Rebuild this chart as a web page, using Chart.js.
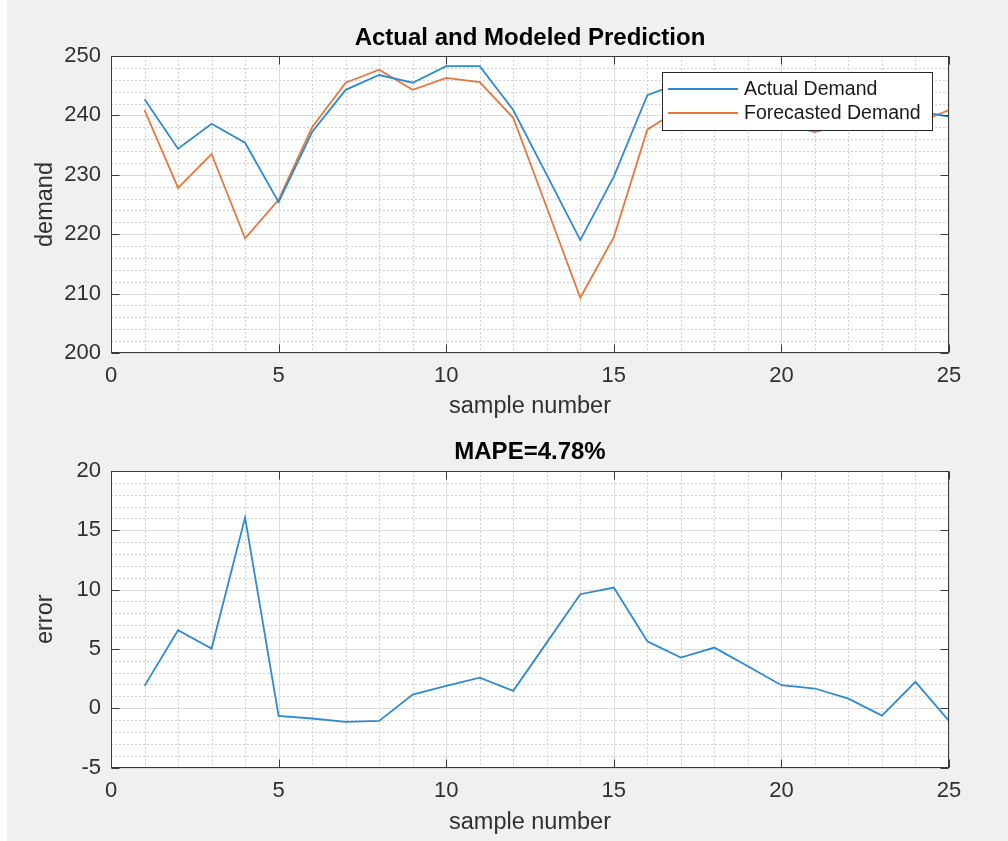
<!DOCTYPE html>
<html lang="en">
  <head>
    <meta charset="UTF-8" />
    <title>Actual and Modeled Prediction</title>
    <script src="https://cdn.jsdelivr.net/npm/chart.js@4"></script>
    <style>
      body { margin: 0; background: #f0f0f0; }
      #faixa { position: absolute; left: 0; top: 0; width: 7px; height: 841px; background: #fff; }
      canvas { position: absolute; left: 0; top: 0; }
    </style>
  </head>
  <body>
    <div id="faixa"></div>
    <canvas id="grafico1" width="1008" height="841"></canvas>
    <canvas id="grafico2" width="1008" height="841"></canvas>
  </body>
</html>
<script>
  // valores
  var samples = [1, 2, 3, 4, 5, 6, 7, 8, 9, 10, 11, 12, 13, 14, 15, 16, 17, 18, 19, 20, 21, 22, 23, 24, 25];
  var actualDemand = [242.7, 234.4, 238.6, 235.4, 225.4, 237.2, 244.3, 246.8, 245.5, 248.3, 248.3, 240.9, 230.0,
    219.0, 229.7, 243.4, 245.5, 245.0, 242.5, 240.5, 238.9, 239.5, 239.0, 240.8, 239.8];
  var forecastDemand = [240.9, 227.8, 233.5, 219.3, 225.8, 238.0, 245.5, 247.7, 244.3, 246.3, 245.6, 239.6, 224.5,
    209.3, 219.5, 237.6, 241.2, 239.9, 239.0, 238.6, 237.2, 238.7, 239.6, 238.6, 240.9];
  var errorValues = [1.88, 6.57, 5.03, 16.07, -0.65, -0.87, -1.15, -1.07, 1.15, 1.88, 2.58, 1.46, 5.53,
    9.61, 10.17, 5.65, 4.27, 5.11, 3.54, 1.94, 1.66, 0.81, -0.62, 2.22, -1.07];
  var xTicks = [0, 5, 10, 15, 20, 25];
  var demandTicks = [200, 210, 220, 230, 240, 250];
  var errorTicks = [-5, 0, 5, 10, 15, 20];

  var BLUE = "#2f8ad0";
  var ORANGE = "#e5773f";
  var FONT = '"Liberation Sans", Arial, sans-serif';

  Chart.defaults.font.family = FONT;
  Chart.defaults.color = "#303030";

  function pontos(ys) {
    return samples.map(function (s, i) {
      return { x: s, y: ys[i] };
    });
  }

  // grade estilo matlab, caixa, marcas, titulo e legenda
  function matlabAxes(cfg) {
    return {
      id: "matlabAxes",
      beforeDatasetsDraw: function (chart) {
        var ctx = chart.ctx;
        var a = chart.chartArea;
        var sx = chart.scales.x;
        var sy = chart.scales.y;
        ctx.save();
        ctx.fillStyle = "#fff";
        ctx.fillRect(a.left, a.top, a.right - a.left, a.bottom - a.top);
        ctx.lineWidth = 1;

        ctx.strokeStyle = "#d0d0d0";
        ctx.setLineDash([2, 2]);
        for (var v = sx.min; v <= sx.max; v += 1) {
          if (v % cfg.majorX == 0) continue;
          var px = Math.round(sx.getPixelForValue(v)) + 0.5;
          ctx.beginPath(); ctx.moveTo(px, a.top); ctx.lineTo(px, a.bottom); ctx.stroke();
        }
        for (var w = sy.min; w <= sy.max; w += cfg.minorY) {
          if (w % cfg.majorY == 0) continue;
          var py = Math.round(sy.getPixelForValue(w)) + 0.5;
          ctx.beginPath(); ctx.moveTo(a.left, py); ctx.lineTo(a.right, py); ctx.stroke();
        }

        ctx.setLineDash([]);
        ctx.strokeStyle = "#dcdcdc";
        xTicks.forEach(function (t) {
          var px = Math.round(sx.getPixelForValue(t)) + 0.5;
          ctx.beginPath(); ctx.moveTo(px, a.top); ctx.lineTo(px, a.bottom); ctx.stroke();
        });
        cfg.yTicks.forEach(function (t) {
          var py = Math.round(sy.getPixelForValue(t)) + 0.5;
          ctx.beginPath(); ctx.moveTo(a.left, py); ctx.lineTo(a.right, py); ctx.stroke();
        });
        ctx.restore();
      },
      afterDatasetsDraw: function (chart) {
        var ctx = chart.ctx;
        var a = chart.chartArea;
        var sx = chart.scales.x;
        var sy = chart.scales.y;
        ctx.save();
        ctx.strokeStyle = "#3a3a3a";
        ctx.lineWidth = 1;
        var L = Math.round(a.left) + 0.5, R = Math.round(a.right) - 0.5;
        var T = Math.round(a.top) + 0.5, B = Math.round(a.bottom) - 0.5;
        ctx.strokeRect(L, T, R - L, B - T);
        var tl = 8;
        ctx.beginPath();
        xTicks.forEach(function (t) {
          var px = Math.round(sx.getPixelForValue(t)) + 0.5;
          ctx.moveTo(px, B); ctx.lineTo(px, B - tl);
          ctx.moveTo(px, T); ctx.lineTo(px, T + tl);
        });
        cfg.yTicks.forEach(function (t) {
          var py = Math.round(sy.getPixelForValue(t)) + 0.5;
          ctx.moveTo(L, py); ctx.lineTo(L + tl, py);
          ctx.moveTo(R, py); ctx.lineTo(R - tl, py);
        });
        ctx.stroke();

        // titulo
        ctx.fillStyle = "#000";
        ctx.font = "bold 24px " + FONT;
        ctx.textAlign = "center";
        ctx.textBaseline = "middle";
        ctx.fillText(cfg.title, (a.left + a.right) / 2, cfg.titleY);

        // legenda
        if (cfg.legend) {
          var box = cfg.legend;
          ctx.fillStyle = "#fff";
          ctx.fillRect(box.x, box.y, box.w, box.h);
          ctx.strokeStyle = "#262626";
          ctx.strokeRect(box.x + 0.5, box.y + 0.5, box.w, box.h);
          ctx.font = "19.5px " + FONT;
          ctx.textAlign = "left";
          chart.data.datasets.forEach(function (ds, i) {
            var yy = box.y + 17 + i * 24;
            ctx.strokeStyle = ds.borderColor;
            ctx.lineWidth = 1.8;
            ctx.beginPath(); ctx.moveTo(box.x + 6, yy); ctx.lineTo(box.x + 76, yy); ctx.stroke();
            ctx.fillStyle = "#1a1a1a";
            ctx.fillText(ds.label, box.x + 82, yy + 1);
          });
        }
        ctx.restore();
      },
    };
  }

  function opcoes(yMin, yMax, yStep, yLabel, pad, xAxisHeight) {
    return {
      responsive: false,
      animation: false,
      devicePixelRatio: 1,
      layout: { padding: pad },
      plugins: { legend: { display: false }, tooltip: { enabled: false } },
      scales: {
        x: {
          type: "linear",
          min: 0,
          max: 25,
          grid: { display: false, drawTicks: false },
          border: { display: false },
          ticks: { stepSize: 5, padding: 10, maxRotation: 0, font: { size: 22 } },
          title: { display: true, text: "sample number", font: { size: 23.5 }, padding: 0 },
          afterFit: function (scale) { scale.height = xAxisHeight; },
        },
        y: {
          min: yMin,
          max: yMax,
          grid: { display: false, drawTicks: false },
          border: { display: false },
          ticks: { stepSize: yStep, padding: 10, font: { size: 22 } },
          title: { display: true, text: yLabel, font: { size: 23.5 }, padding: { top: 31 } },
          afterFit: function (scale) { scale.width = 111; },
        },
      },
    };
  }

  new Chart(document.getElementById("grafico1"), {
    type: "line",
    data: {
      datasets: [
        { label: "Actual Demand", data: pontos(actualDemand), borderColor: BLUE, borderWidth: 1.8, pointRadius: 0, fill: false },
        { label: "Forecasted Demand", data: pontos(forecastDemand), borderColor: ORANGE, borderWidth: 1.8, pointRadius: 0, fill: false },
      ],
    },
    options: opcoes(200, 250, 10, "demand", { top: 56, right: 59, bottom: 420, left: 0 }, 68),
    plugins: [matlabAxes({ majorX: 5, majorY: 10, minorY: 2, yTicks: demandTicks, title: "Actual and Modeled Prediction", titleY: 38,
      legend: { x: 662, y: 72, w: 270, h: 58 } })],
  });

  new Chart(document.getElementById("grafico2"), {
    type: "line",
    data: {
      datasets: [
        { label: "error", data: pontos(errorValues), borderColor: BLUE, borderWidth: 1.8, pointRadius: 0, fill: false },
      ],
    },
    options: opcoes(-5, 20, 5, "error", { top: 471, right: 59, bottom: 4, left: 0 }, 69.5),
    plugins: [matlabAxes({ majorX: 5, majorY: 5, minorY: 1, yTicks: errorTicks, title: "MAPE=4.78%", titleY: 452 })],
  });
</script>
